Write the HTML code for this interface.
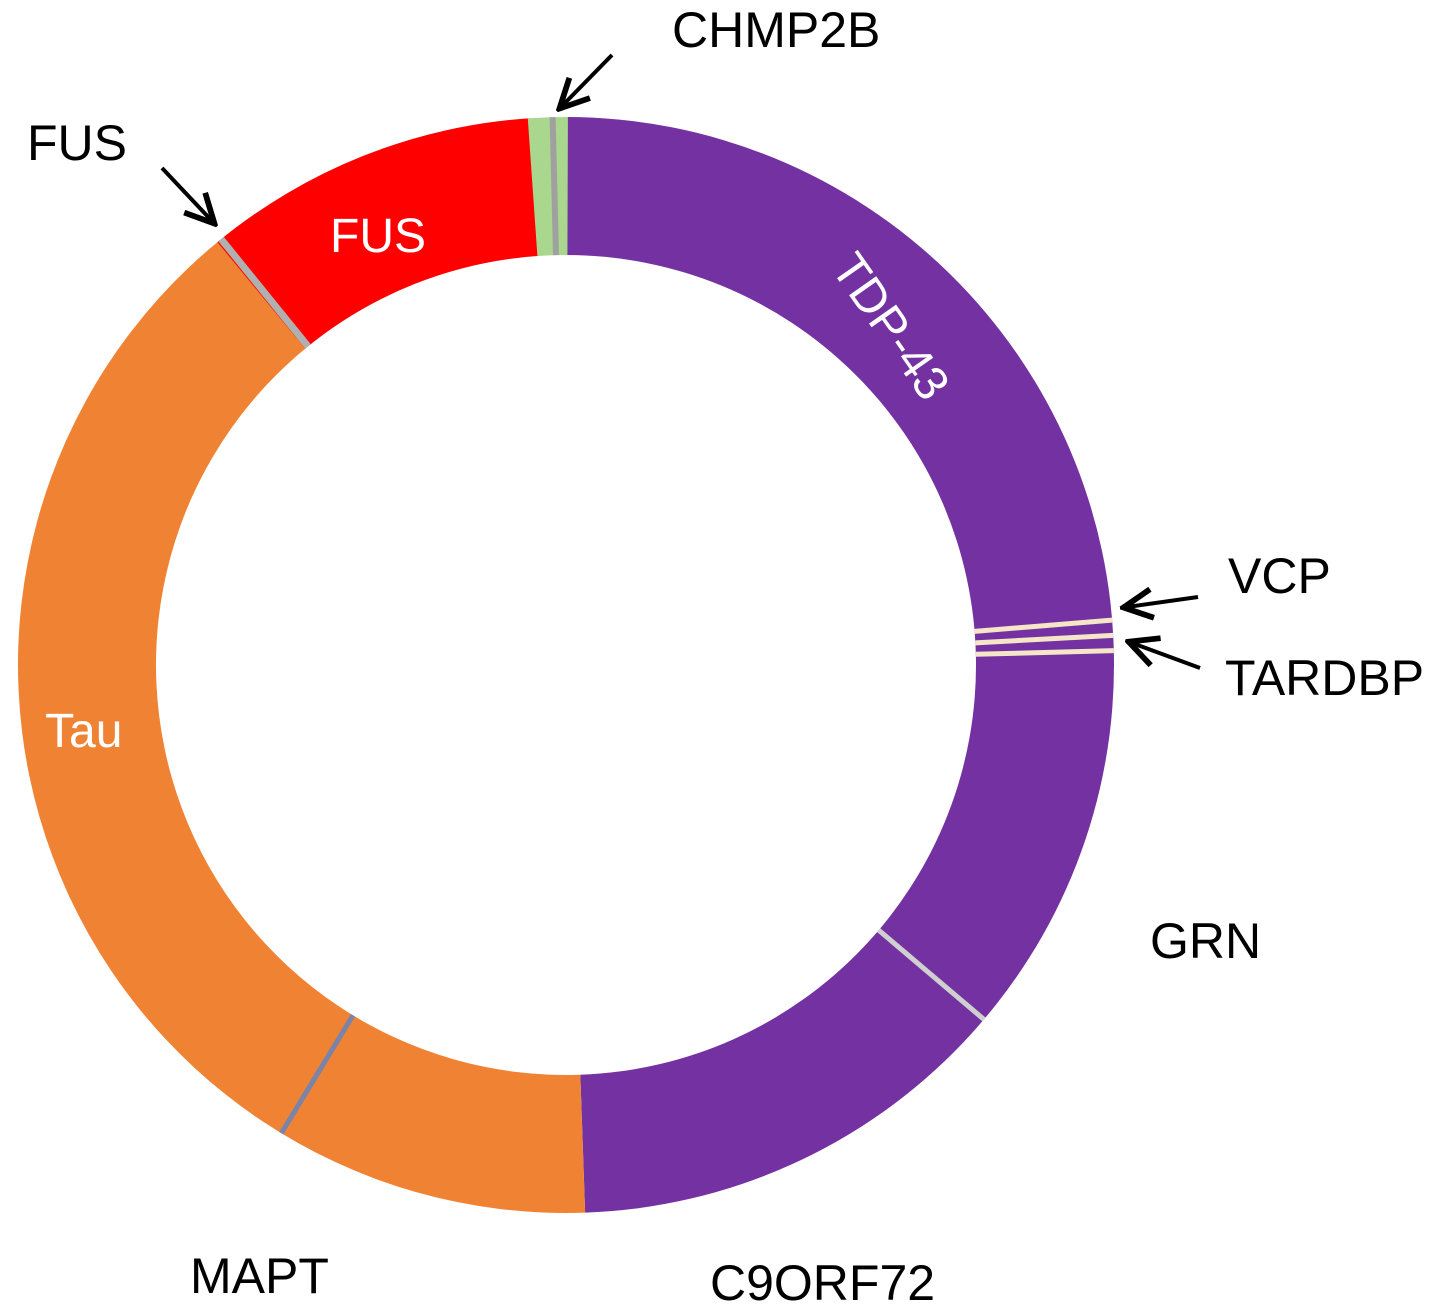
<!DOCTYPE html>
<html><head><meta charset="utf-8"><style>
html,body{margin:0;padding:0;background:#fff;}
svg{display:block;}
text{font-family:"Liberation Sans",Arial,sans-serif;}
</style></head><body>
<svg id="s" width="1443" height="1313" viewBox="0 0 1443 1313" xmlns="http://www.w3.org/2000/svg">
<defs><marker id="ah" viewBox="0 0 10 10" refX="8" refY="5" markerWidth="9" markerHeight="9" orient="auto"><path d="M1,1 L9,5 L1,9" fill="none" stroke="#000" stroke-width="1.6"/></marker></defs>
<g id="ring"></g>
<g stroke="#000" stroke-width="4" fill="none" marker-end="url(#ah)">
<line x1="612" y1="55" x2="562" y2="106"/>
<line x1="162" y1="168" x2="212" y2="221"/>
<line x1="1198" y1="597" x2="1127" y2="607"/>
<line x1="1200" y1="668" x2="1132" y2="643"/>
</g>
<g font-size="50" fill="#000">
<text x="672" y="47">CHMP2B</text>
<text x="27" y="160">FUS</text>
<text x="1228" y="593">VCP</text>
<text x="1225" y="695">TARDBP</text>
<text x="1150" y="958">GRN</text>
<text x="190" y="1293">MAPT</text>
<text x="710" y="1300">C9ORF72</text>
</g>
<g font-size="48" fill="#fff">
<text x="330" y="252">FUS</text>
<text x="45" y="747">Tau</text>
<text x="0" y="0" transform="translate(830,268) rotate(55)">TDP-43</text>
</g>
</svg>
<script>
var cx=566,cy=665,R=548,r=410,g=document.getElementById('ring');
function pt(a,rad){a=a*Math.PI/180;return [cx+rad*Math.sin(a),cy-rad*Math.cos(a)];}
function seg(a1,a2,col){var p1=pt(a1,R),p2=pt(a2,R),p3=pt(a2,r),p4=pt(a1,r);var l=(a2-a1)>180?1:0;
var d='M'+p1+' A'+R+','+R+' 0 '+l+' 1 '+p2+' L'+p3+' A'+r+','+r+' 0 '+l+' 0 '+p4+'Z';
var e=document.createElementNS('http://www.w3.org/2000/svg','path');e.setAttribute('d',d);e.setAttribute('fill',col);g.appendChild(e);}
function line(a,col,w){var p1=pt(a,R),p2=pt(a,r);var e=document.createElementNS('http://www.w3.org/2000/svg','line');
e.setAttribute('x1',p1[0]);e.setAttribute('y1',p1[1]);e.setAttribute('x2',p2[0]);e.setAttribute('y2',p2[1]);e.setAttribute('stroke',col);e.setAttribute('stroke-width',w);g.appendChild(e);}
seg(0,178,'#7431a2');
seg(178,321,'#f08234');
seg(320.5,356.2,'#ff0000');
seg(356,360.2,'#a9d78e');
line(358.6,'#a0a0a0',6);
line(321,'#b0b0b0',7);
line(130.3,'#d0d0d0',5);
line(211.3,'#7a84a8',5);
line(85.3,'#f5e6c8',5);line(86.9,'#f5e6c8',5);line(88.5,'#f5e6c8',5);
</script>
</body></html>
